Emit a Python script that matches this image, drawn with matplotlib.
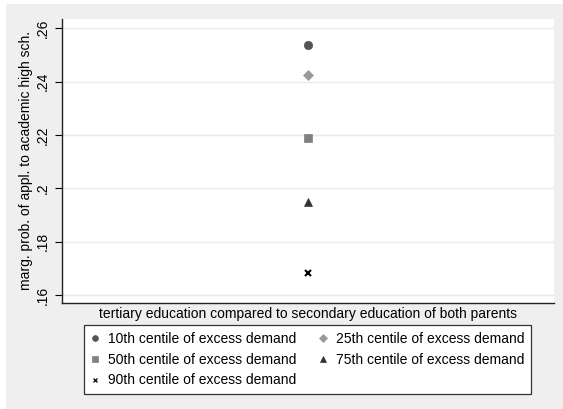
import matplotlib
matplotlib.use("Agg")
import matplotlib.pyplot as plt
from matplotlib.patches import Rectangle

plt.rcParams['font.family'] = ['Liberation Sans', 'DejaVu Sans']

labels = ["10th centile of excess demand", "25th centile of excess demand",
          "50th centile of excess demand", "75th centile of excess demand",
          "90th centile of excess demand"]
values = [0.2538, 0.2425, 0.2187, 0.1947, 0.1684]
markers = ["o", "D", "s", "^", "x"]
colors = ["#555555", "#999999", "#808080", "#333333", "#000000"]
sizes = [6, 5.5, 6, 6, 5]
yticks = [0.16, 0.18, 0.20, 0.22, 0.24, 0.26]
ytick_labels = [".16", ".18", ".2", ".22", ".24", ".26"]

fig = plt.figure(figsize=(5.63, 4.09), dpi=100)
fig.patch.set_facecolor("white")
fig.patches.append(Rectangle((6 / 563, 0), 1 - 6 / 563, 1 - 4 / 409,
                             transform=fig.transFigure, facecolor="#EFEFEF",
                             edgecolor="none", zorder=-10))

ax = fig.add_axes([62 / 563, 1 - 303 / 409, (554 - 62) / 563, (303 - 19) / 409])
ax.set_facecolor("white")

handles = []
for lab, v, m, c, s in zip(labels, values, markers, colors, sizes):
    h, = ax.plot([0], [v], linestyle="none", marker=m, color=c, markersize=s,
                 markeredgewidth=1.5 if m == "x" else 0.5, label=lab)
    handles.append(h)

ax.set_xlim(-1, 1)
ax.set_ylim(0.157, 0.2635)
ax.set_yticks(yticks)
ax.set_yticklabels(ytick_labels, rotation=90, va="center", fontsize=10)
ax.set_xticks([])
ax.grid(axis="y", color="#EAEAEA", linewidth=1)
ax.set_axisbelow(True)
for side in ["top", "right"]:
    ax.spines[side].set_visible(False)
for side in ["left", "bottom"]:
    ax.spines[side].set_color("#222222")
    ax.spines[side].set_linewidth(1)
ax.tick_params(axis="y", length=5, width=0.8, pad=4)

ax.set_ylabel("marg. prob. of appl. to academic high sch.", fontsize=10, labelpad=2)
ax.set_xlabel("tertiary education compared to secondary education of both parents",
              fontsize=10, labelpad=3)

order = [0, 2, 4, 1, 3]
leg = fig.legend([handles[i] for i in order], [labels[i] for i in order],
                 ncol=2, loc="center", bbox_to_anchor=(307.5 / 563, 1 - 359.5 / 409),
                 fontsize=10, frameon=True, fancybox=False, framealpha=1,
                 edgecolor="#333333", handlelength=0.6, handletextpad=0.65,
                 columnspacing=1.6, labelspacing=0.5, borderpad=0.5,
                 markerscale=0.7)
leg.get_frame().set_linewidth(0.9)
leg.legend_handles[2].set_markeredgewidth(0.9)

fig.savefig("out.png", dpi=100, facecolor=fig.get_facecolor())
